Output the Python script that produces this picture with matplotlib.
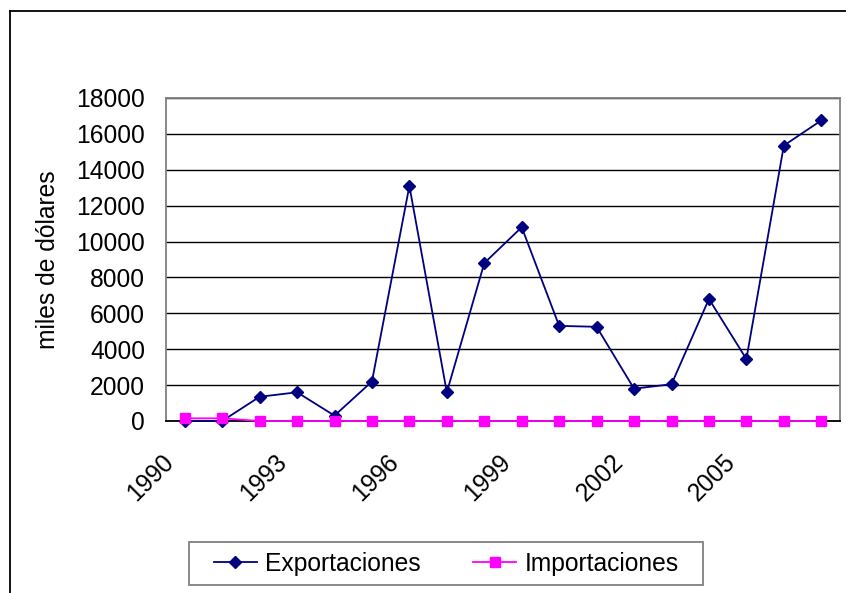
import matplotlib
matplotlib.use("Agg")
import matplotlib.pyplot as plt
from matplotlib.lines import Line2D
from matplotlib.patches import Rectangle
import matplotlib.transforms as mtransforms

years = list(range(1990, 2008))
exportaciones = [0, 0, 1350, 1600, 300, 2200, 13100, 1600, 8800, 10800,
                 5300, 5250, 1800, 2050, 6800, 3450, 15350, 16750]
importaciones = [150, 150, 0, 0, 0, 0, 0, 0, 0, 0,
                 0, 0, 0, 0, 0, 0, 0, 0]
yticks = [0, 2000, 4000, 6000, 8000, 10000, 12000, 14000, 16000, 18000]

plt.rcParams['font.family'] = ['Liberation Sans', 'DejaVu Sans']
FS = 17.7

W, H = 846, 593
fig = plt.figure(figsize=(W / 100, H / 100), dpi=100)

# outer chart frame (left and top visible)
fig.add_artist(Line2D([9.5 / W, 9.5 / W], [0, 1 - 10.5 / H], transform=fig.transFigure,
                      color='black', lw=1.3))
fig.add_artist(Line2D([9.5 / W, 1], [1 - 10.5 / H, 1 - 10.5 / H], transform=fig.transFigure,
                      color='black', lw=1.3))

left, right, top, bottom = 166 / W, 840 / W, 1 - 98 / H, 1 - 421 / H
ax = fig.add_axes([left, bottom, right - left, top - bottom])

x = list(range(len(years)))
ax.plot(x, exportaciones, color='#000080', lw=1.3, marker='D', markersize=6.5,
        label='Exportaciones', zorder=3, clip_on=False)
ax.plot(x, importaciones, color='#FF00FF', lw=1.3, marker='s', markersize=6.5,
        label='Importaciones', zorder=4, clip_on=False)

ax.set_xlim(-0.5, len(years) - 0.5)
ax.set_ylim(0, 18000)
ax.set_yticks(yticks)
ax.set_yticklabels([str(v) for v in yticks], fontsize=FS)
ax.yaxis.grid(True, color='black', lw=1.0)
ax.set_axisbelow(True)

tick_pos = [i for i in x if (years[i] - 1990) % 3 == 0]
ax.set_xticks(tick_pos)
ax.set_xticklabels([str(years[i]) for i in tick_pos], fontsize=FS, rotation=45,
                   ha='right', va='top', rotation_mode='anchor')
ax.tick_params(axis='x', length=0, pad=14)
ax.tick_params(axis='y', length=0, pad=15)
offset = mtransforms.ScaledTranslation(-23 / 100, -9 / 100, fig.dpi_scale_trans)
for lab in ax.get_xticklabels():
    lab.set_transform(lab.get_transform() + offset)

for s in ax.spines.values():
    s.set_color('#808080')
    s.set_linewidth(1.3)
ax.spines['bottom'].set_color('black')

ax.set_ylabel('miles de dólares', fontsize=FS, labelpad=12)

# legend box
fig.add_artist(Rectangle((189 / W, 1 - 585 / H), (703 - 189) / W, (585 - 542) / H,
                         transform=fig.transFigure, fill=False, edgecolor='#808080', lw=1.3))
leg = fig.legend(loc='center', bbox_to_anchor=((189 + 703) / 2 / W, 1 - (542 + 585) / 2 / H),
                 ncol=2, fontsize=FS, frameon=False,
                 handlelength=1.75, handletextpad=0.33, columnspacing=2.15,
                 borderpad=0.35)

fig.savefig('out.png', dpi=100)
